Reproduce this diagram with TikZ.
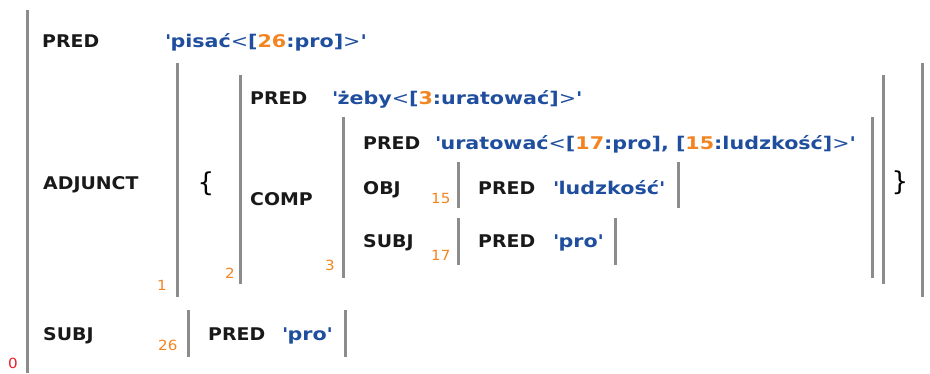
\documentclass[tikz,border=0pt]{standalone}
\usepackage{fontspec}
\setmainfont{DejaVu Sans}
\newfontfamily\labfont{DejaVu Sans}[FakeStretch=1.08]
\newfontfamily\valfont{DejaVu Sans}[FakeStretch=1.18]
\usepackage{xcolor}
\usepackage{tikz}
\usetikzlibrary{positioning}
\definecolor{valblue}{HTML}{1F4E9E}
\definecolor{idxorange}{HTML}{F28522}
\definecolor{idxred}{HTML}{E8202A}
\definecolor{bargray}{HTML}{8C8C8C}
\newcommand{\vlt}{{\mdseries<}}
\newcommand{\vgt}{{\mdseries>}}
\newcommand{\vq}{\textquotesingle}
\newcommand{\vnum}[1]{\textcolor{idxorange}{#1}}
\tikzset{
  attr/.style={anchor=base west,inner sep=0pt,font=\labfont\fontsize{17.5}{20}\selectfont\bfseries,text=black!90},
  val/.style={attr,font=\valfont\fontsize{17.5}{20}\selectfont\bfseries,text=valblue},
  idx/.style={anchor=base west,inner sep=0pt,font=\labfont\fontsize{14}{16}\selectfont,text=idxorange},
  fbar/.style={line width=3pt,bargray},
  brace/.style={anchor=center,inner sep=0pt,font=\fontsize{26}{28}\selectfont},
}
\begin{document}
\begin{tikzpicture}[x=1pt,y=-1pt]
  \useasboundingbox (0,0) rectangle (930,373);
  % f-structure 0
  \draw[fbar] (27,10) -- (27,373);
  \node[idx,text=idxred] (i0) at (8,368) {0};
  \node[attr] (pred0) at (42,47) {PRED};
  \node[val] (v0) at (165,47) {\vq pisać\vlt[\vnum{26}:pro]\vgt\vq};
  \node[attr] (adj) at (43,189) {ADJUNCT};
  \node[attr] (subj0) at (43,340) {SUBJ};
  % adjunct set 1
  \draw[fbar] (177,63) -- (177,297);
  \draw[fbar] (922,63) -- (922,297);
  \node[idx] (i1) at (157,290) {1};
  \node[brace] (lb) at (206,184) {\{};
  \node[brace] (rb) at (900,183) {\}};
  % f-structure 2
  \draw[fbar] (240,75) -- (240,284);
  \draw[fbar] (883,75) -- (883,284);
  \node[idx] (i2) at (225,278) {2};
  \node[attr] (pred2) at (250,104) {PRED};
  \node[val] (v2) at (332,104) {\vq żeby\vlt[\vnum{3}:uratować]\vgt\vq};
  \node[attr] (comp) at (250,205) {COMP};
  % f-structure 3
  \draw[fbar] (343,117) -- (343,278);
  \draw[fbar] (872,117) -- (872,278);
  \node[idx] (i3) at (325,270) {3};
  \node[attr] (pred3) at (363,149) {PRED};
  \node[val] (v3) at (435,149) {\vq uratować\vlt[\vnum{17}:pro], [\vnum{15}:ludzkość]\vgt\vq};
  \node[attr] (obj) at (363,194) {OBJ};
  \node[attr] (subj3) at (363,247) {SUBJ};
  % f-structure 15
  \draw[fbar] (458,162) -- (458,208);
  \draw[fbar] (678,162) -- (678,208);
  \node[idx] (i15) at (431,203) {15};
  \node[attr] (pred15) at (478,194) {PRED};
  \node[val] (v15) at (553,194) {\vq ludzkość\vq};
  % f-structure 17
  \draw[fbar] (458,218) -- (458,265);
  \draw[fbar] (615,218) -- (615,265);
  \node[idx] (i17) at (431,260) {17};
  \node[attr] (pred17) at (478,247) {PRED};
  \node[val] (v17) at (553,247) {\vq pro\vq};
  % f-structure 26
  \draw[fbar] (188,310) -- (188,357);
  \draw[fbar] (345,310) -- (345,357);
  \node[idx] (i26) at (158,350) {26};
  \node[attr] (pred26) at (208,340) {PRED};
  \node[val] (v26) at (282,340) {\vq pro\vq};
\end{tikzpicture}
\end{document}
